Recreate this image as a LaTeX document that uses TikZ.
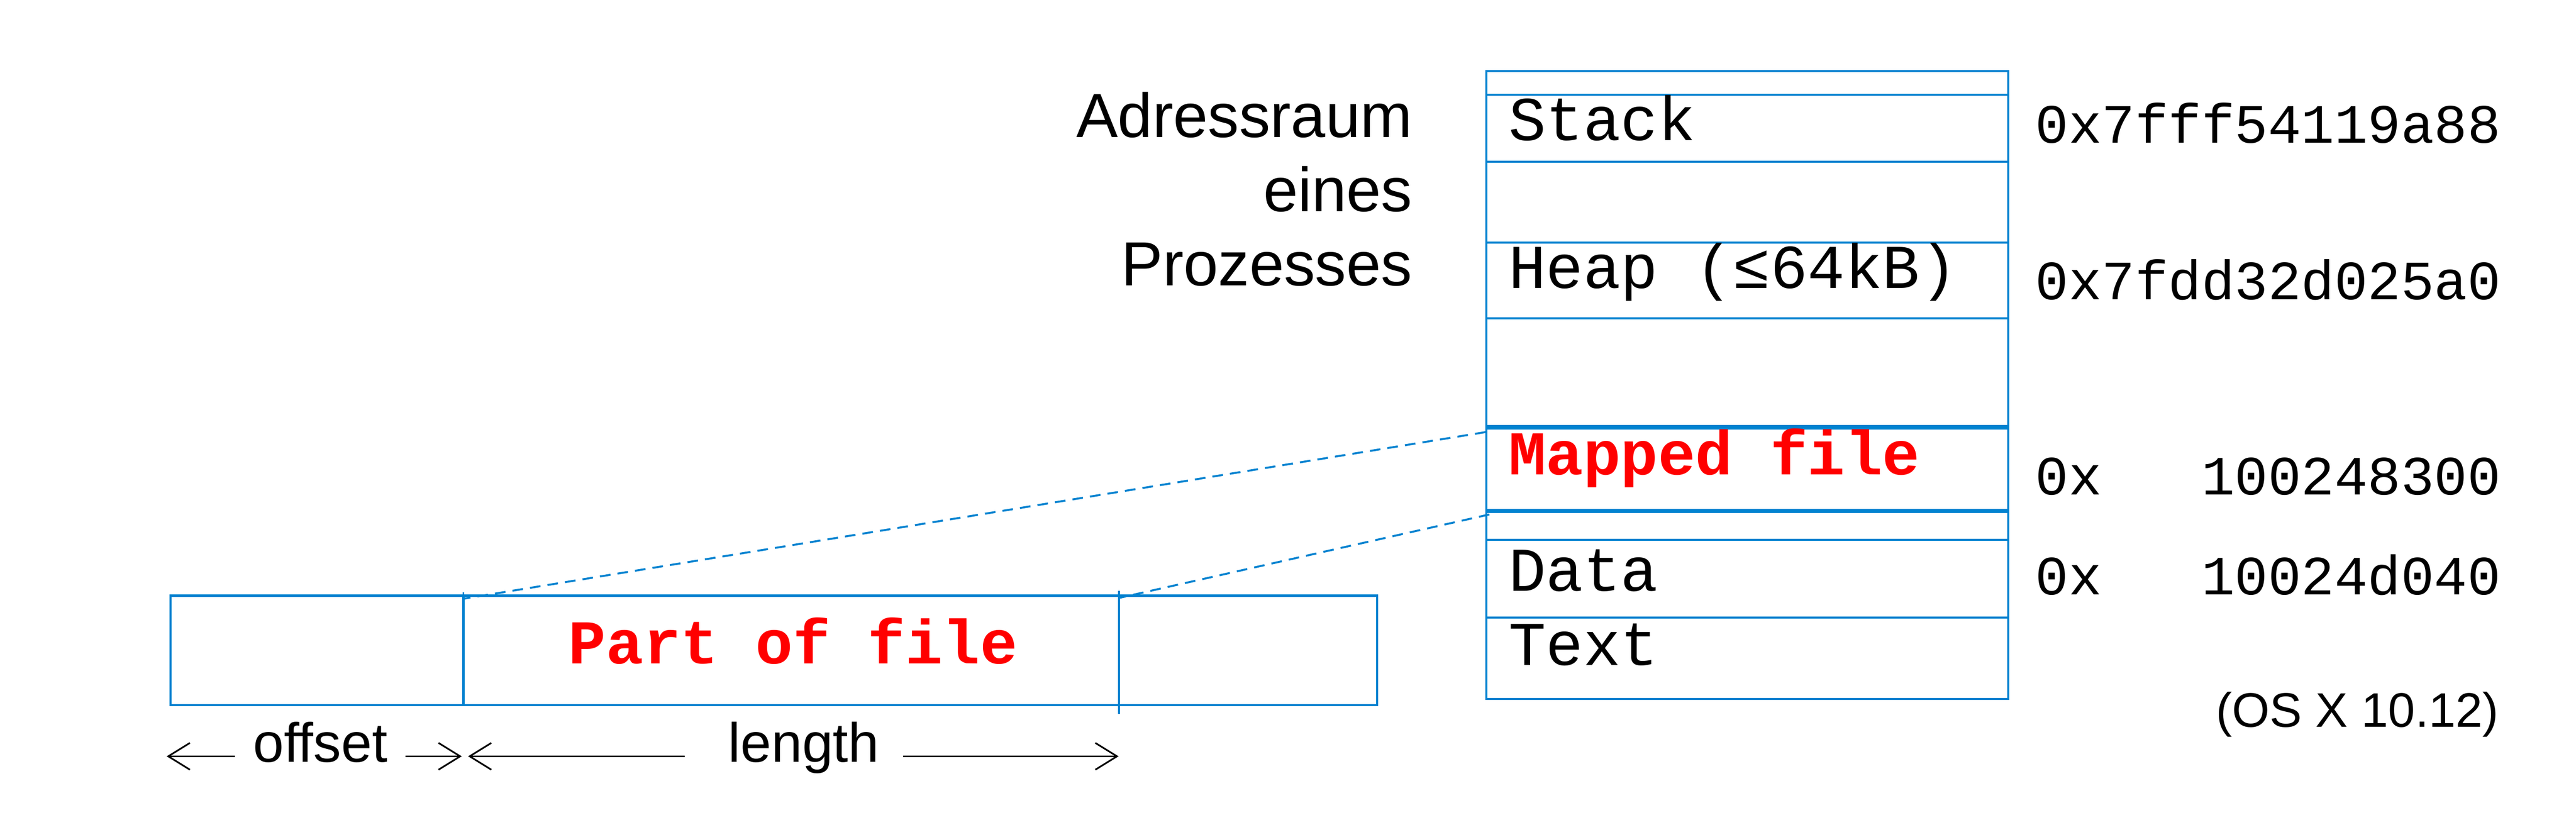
\documentclass[tikz,border=0pt]{standalone}
\usepackage{fontspec}
\setmainfont{Liberation Sans}
\setmonofont{Liberation Mono}
\usepackage{xcolor}
\usetikzlibrary{fit}
\usetikzlibrary{arrows.meta}
\definecolor{memblue}{RGB}{0,130,208}

\begin{document}
\begin{tikzpicture}[
	seg/.style 		= {draw=memblue, line width=1.4pt, inner sep=0pt, outer sep=0pt},
	filebox/.style 	= {draw=memblue, line width=1.7pt, inner sep=0pt, outer sep=0pt},
	boxtxt/.style 	= {font=\ttfamily\fontsize{45}{54}\selectfont, inner sep=0pt, anchor=base west},
	hot/.style 		= {text=red, font=\ttfamily\bfseries\fontsize{45}{54}\selectfont},
	addr/.style 	= {font=\ttfamily\fontsize{40}{48}\selectfont, inner sep=0pt, anchor=base west},
	side/.style 	= {font=\fontsize{45}{53.5}\selectfont, inner sep=0pt},
	dimtxt/.style 	= {font=\fontsize{40}{48}\selectfont, inner sep=0pt, text height=0.5cm, text depth=0.2cm},
	dim/.style 		= {line width=1.2pt, -{Straight Barb[length=0.55cm,width=0.68cm]}},
	map/.style 		= {draw=memblue, line width=1.4pt, dash pattern=on 0.27cm off 0.18cm}]
			%\draw[help lines] (0,0) grid (65,-21);
			\useasboundingbox (0,0) rectangle (65.38,-20.81);
			
			\foreach \nm/\ya/\yb in {topseg/1.80/2.41, stack/2.41/4.11, gapa/4.11/6.16, heap/6.16/8.08, gapb/8.08/10.85, mapped/10.85/12.97, gapc/12.97/13.70, data/13.70/15.68, textseg/15.68/17.74}
				\node[seg, fit={(37.72,-\ya) (50.97,-\yb)}] (\nm) {};
			\draw[memblue, line width=3.2pt] (mapped.north west) -- (mapped.north east);
			\draw[memblue, line width=3.2pt] (mapped.south west) -- (mapped.south east);
			
			\node[boxtxt] (stacklbl) at (38.28,-3.56) {Stack};
			\node[boxtxt] (heaplbl) at (38.28,-7.31) {Heap (≤64kB)};
			\node[boxtxt, hot] (mappedlbl) at (38.28,-12.05) {Mapped file};
			\node[boxtxt] (datalbl) at (38.28,-15.00) {Data};
			\node[boxtxt] (textlbl) at (38.28,-16.89) {Text};
			
			\node[addr] (stackaddr) at (51.65,-3.63) {0x7fff54119a88};
			\node[addr] (heapaddr) at (51.65,-7.60) {0x7fdd32d025a0};
			\node[addr] (mappedaddr) at (51.65,-12.56) {0x\phantom{000}100248300};
			\node[addr] (dataaddr) at (51.65,-15.10) {0x\phantom{000}10024d040};
			\node[side, font=\fontsize{35}{42}\selectfont, anchor=base east] (osver) at (63.43,-18.46) {(OS X 10.12)};
			
			\node[side, align=right, anchor=base east] (title) at (35.85,-7.25) {Adressraum\\eines\\Prozesses};
			
			\node[filebox, fit={(4.33,-15.12) (11.76,-17.90)}] (offpart) {};
			\node[filebox, fit={(11.76,-15.12) (28.40,-17.90)}] (filepart) {};
			\node[filebox, fit={(28.40,-15.12) (34.95,-17.90)}] (restpart) {};
			\node[boxtxt, hot, anchor=base] (filelbl) at (20.13,-16.85) {Part of file};
			\draw[memblue, line width=1.2pt] ([yshift=0.08cm]filepart.north west) -- (filepart.south west);
			\draw[memblue, line width=1.2pt] ([yshift=0.12cm]filepart.north east) -- ([yshift=-0.22cm]filepart.south east);
			
			\coordinate (mapA) at (37.70,-10.97);
			\coordinate (mapB) at (37.80,-13.06);
			\draw[map] (mapA) -- ([yshift=-0.08cm]filepart.north west);
			\draw[map] (mapB) -- ([yshift=-0.06cm]filepart.north east);
			
			\node[dimtxt] (offlbl) at (8.13,-19.20) {offset};
			\node[dimtxt] (lenlbl) at (20.40,-19.20) {length};
			\coordinate (offtipL) at (4.23,-19.20);
			\coordinate (offtipR) at (11.72,-19.20);
			\coordinate (lentipL) at (11.88,-19.20);
			\coordinate (lentipR) at (28.39,-19.20);
			\draw[dim] ([xshift=-0.45cm]offlbl.west) -- (offtipL);
			\draw[dim] ([xshift=0.45cm]offlbl.east) -- (offtipR);
			\draw[dim] ([xshift=-1.1cm]lenlbl.west) -- (lentipL);
			\draw[dim] ([xshift=0.6cm]lenlbl.east) -- (lentipR);
			
\end{tikzpicture}
\end{document}
